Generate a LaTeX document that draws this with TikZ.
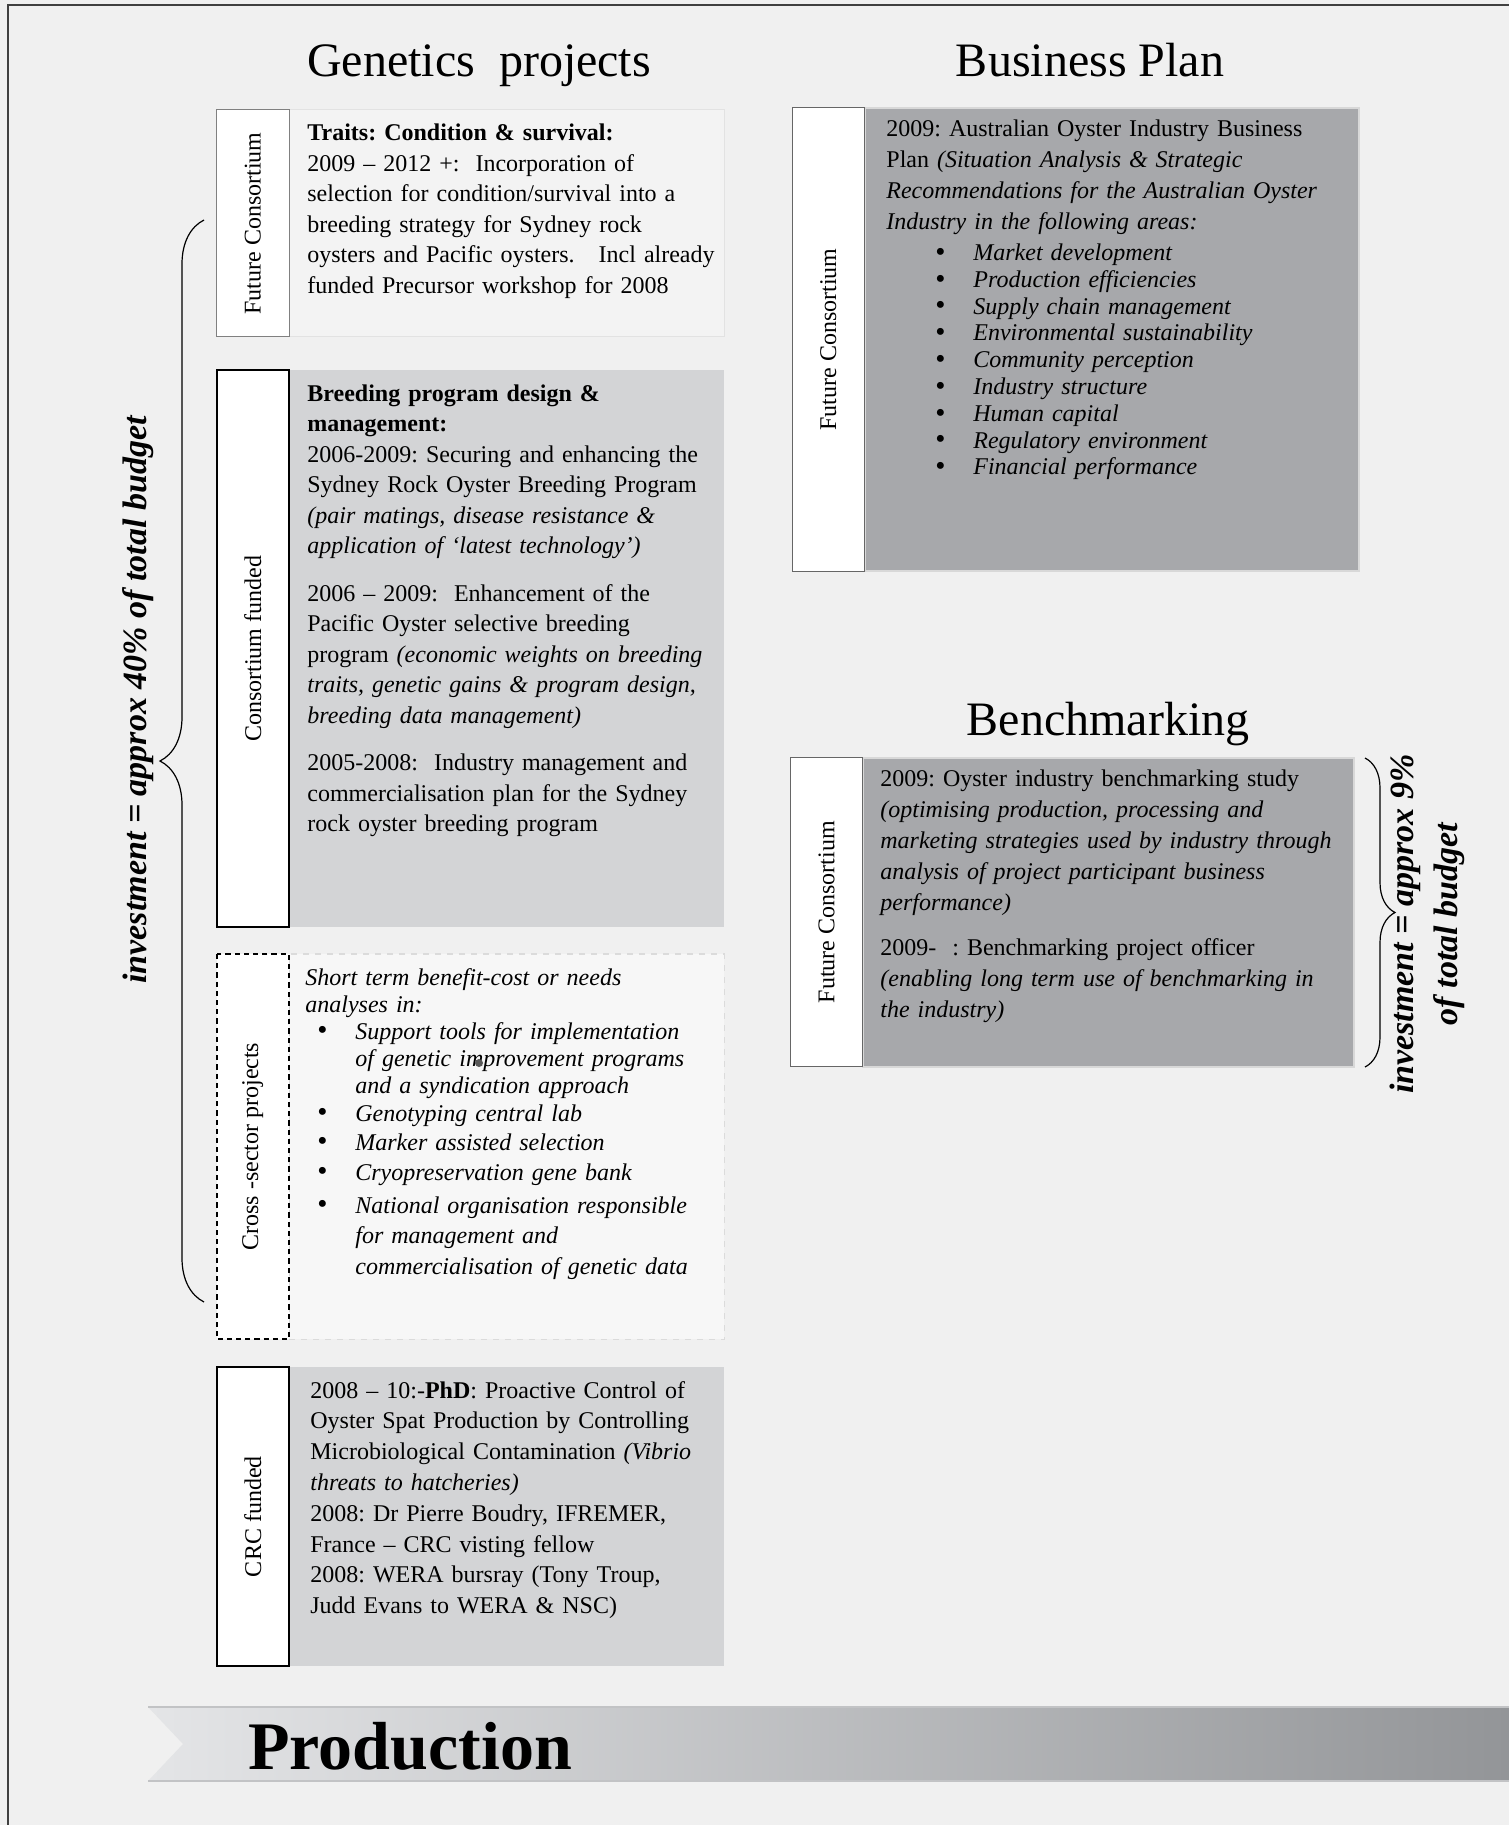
\documentclass[tikz,border=0pt]{standalone}
\usepackage{fontspec}
\setmainfont{Liberation Serif}
\usetikzlibrary{decorations.pathreplacing}
\definecolor{pagebg}{HTML}{F0F0F0}
\definecolor{frameline}{HTML}{404040}
\definecolor{palebox}{HTML}{F3F3F3}
\definecolor{paleedge}{HTML}{E2E2E2}
\definecolor{midbox}{HTML}{D3D4D6}
\definecolor{darkbox}{HTML}{A7A8AB}
\definecolor{darkedge}{HTML}{D8D8D8}
\definecolor{dashbox}{HTML}{F7F7F7}
\definecolor{ribleft}{HTML}{E4E5E7}
\definecolor{ribright}{HTML}{939598}
\definecolor{ribedge}{HTML}{C2C3C5}
\newcommand{\blt}[2]{\hspace*{#1}\makebox[#2][l]{\raisebox{-0.4pt}{\fontsize{14.5}{14.5}\selectfont\upshape\textbullet}}}
\frenchspacing

\begin{document}
\begin{tikzpicture}[x=0.5pt, y=-0.5pt,
  lab/.style={fill=white, rotate=90, inner sep=0pt, font=\fontsize{12}{14}\selectfont},
  cbox/.style={fill=#1, inner sep=0pt},
  txt/.style={anchor=base west, inner sep=0pt, text width=250pt, align=left, font=\fontsize{12}{#1}\selectfont},
  itxt/.style={txt=#1, font=\fontsize{12}{#1}\selectfont\itshape},
  head/.style={anchor=base, inner sep=0pt, font=\fontsize{24}{28}\selectfont},
  budget/.style={rotate=90, inner sep=0pt, align=center, font=\fontsize{17}{22}\selectfont\bfseries\itshape},
  budbrace/.style={decorate, decoration={brace, amplitude=#1}, line width=0.6pt}
]
  \fill[pagebg] (0,0) rectangle (1509,1825);
  \useasboundingbox (0,0) rectangle (1509,1825);
  \draw[frameline, line width=1pt] (8,1825) -- (8,5) -- (1509,5);

  % headings
  \node[head] (genhead) at (479,77) {Genetics\ \ projects};
  \node[head] (bphead) at (1090,77) {Business Plan};
  \node[head] (bmhead) at (1108,735) {Benchmarking};

  % genetics projects
  \node[cbox=palebox, draw=paleedge, line width=0.5pt, minimum width=217.7pt, minimum height=113.35pt] (g1box) at (506.7,223.35) {};
  \node[lab, draw=black!50, line width=0.5pt, minimum width=113.35pt, minimum height=36.25pt] (g1lab) at (252.75,223.35) {Future Consortium};
  \node[txt=15.3pt] (g1txt) at (307,140.5) {\textbf{Traits: Condition \& survival:}\\
    2009 -- 2012 +:\ \ Incorporation of\\
    selection for condition/survival into a\\
    breeding strategy for Sydney rock\\
    oysters and Pacific oysters.\ \ \ Incl already\\
    funded Precursor workshop for 2008};

  \node[cbox=midbox, minimum width=217.7pt, minimum height=278.3pt] (g2box) at (506.7,648.7) {};
  \node[lab, draw=black, line width=1pt, minimum width=278.3pt, minimum height=36.25pt] (g2lab) at (252.75,648.7) {Consortium funded};
  \node[txt=15.25pt] (g2txt) at (307,401) {\textbf{Breeding program design \&}\\
    \textbf{management:}\\
    2006-2009: Securing and enhancing the\\
    Sydney Rock Oyster Breeding Program\\
    \textit{(pair matings, disease resistance \&}\\
    \textit{application of `latest technology')}\\[8.5pt]
    2006 -- 2009:\ \ Enhancement of the\\
    Pacific Oyster selective breeding\\
    program \textit{(economic weights on breeding}\\
    \textit{traits, genetic gains \& program design,}\\
    \textit{breeding data management)}\\[8.5pt]
    2005-2008:\ \ Industry management and\\
    commercialisation plan for the Sydney\\
    rock oyster breeding program};

  \node[cbox=dashbox, draw=black!14, dashed, line width=0.7pt, minimum width=217.7pt, minimum height=192.65pt] (g3box) at (506.7,1146.65) {};
  \node[lab, draw=black, line width=1pt, dash pattern=on 2.6pt off 2pt, minimum width=192.65pt, minimum height=36.25pt] (g3lab) at (252.75,1146.65) {Cross -sector projects};
  \node[itxt=13.5pt] (g3txt) at (305,985) {Short term benefit-cost or needs\\
    analyses in:\\
    \blt{6pt}{19pt}Support tools for implementation\\
    \hspace*{25pt}of genetic improvement programs\\
    \hspace*{25pt}and a syndication approach\\[0.5pt]
    \blt{6pt}{19pt}Genotyping central lab\\[1pt]
    \blt{6pt}{19pt}Marker assisted selection\\[1.5pt]
    \blt{6pt}{19pt}Cryopreservation gene bank\\[3pt]
    \blt{6pt}{19pt}National organisation responsible\\[1.5pt]
    \hspace*{25pt}for management and\\[2pt]
    \hspace*{25pt}commercialisation of genetic data};
  \fill[black!65] (479,1063) circle[radius=2pt];

  \node[cbox=midbox, minimum width=217.7pt, minimum height=149.35pt] (g4box) at (506.7,1516.65) {};
  \node[lab, draw=black, line width=1pt, minimum width=149.35pt, minimum height=36.25pt] (g4lab) at (252.75,1516.65) {CRC funded};
  \node[txt=15.4pt] (g4txt) at (310,1398) {2008 -- 10:-\textbf{PhD}: Proactive Control of\\
    Oyster Spat Production by Controlling\\
    Microbiological Contamination \textit{(Vibrio}\\
    \textit{threats to hatcheries)}\\
    2008: Dr Pierre Boudry, IFREMER,\\
    France -- CRC visting fellow\\
    2008: WERA bursray (Tony Troup,\\
    Judd Evans to WERA \& NSC)};

  % business plan
  \node[cbox=darkbox, draw=darkedge, line width=1pt, minimum width=247pt, minimum height=231.5pt] (bpbox) at (1111.6,339.5) {};
  \node[lab, draw=black!60, line width=0.5pt, minimum width=231.5pt, minimum height=36.3pt] (bplab) at (828.3,339.5) {Future Consortium};
  \node[txt=15.35pt] (bptxt) at (886,137) {2009: Australian Oyster Industry Business\\
    Plan \textit{(Situation Analysis \& Strategic}\\
    \textit{Recommendations for the Australian Oyster}\\
    \textit{Industry in the following areas:}};
  \node[itxt=13.4pt] (bplist) at (886,260.5) {\blt{24.5pt}{19pt}Market development\\
    \blt{24.5pt}{19pt}Production efficiencies\\
    \blt{24.5pt}{19pt}Supply chain management\\
    \blt{24.5pt}{19pt}Environmental sustainability\\
    \blt{24.5pt}{19pt}Community perception\\
    \blt{24.5pt}{19pt}Industry structure\\
    \blt{24.5pt}{19pt}Human capital\\
    \blt{24.5pt}{19pt}Regulatory environment\\
    \blt{24.5pt}{19pt}Financial performance};

  % benchmarking
  \node[cbox=darkbox, draw=darkedge, line width=1pt, minimum width=245.65pt, minimum height=154.5pt] (bmbox) at (1108.35,912.2) {};
  \node[lab, draw=black!60, line width=0.5pt, minimum width=154.5pt, minimum height=36.1pt] (bmlab) at (826.6,912.2) {Future Consortium};
  \node[txt=15.45pt] (bmtxt) at (880,786.5) {2009: Oyster industry benchmarking study\\
    \textit{(optimising production, processing and}\\
    \textit{marketing strategies used by industry through}\\
    \textit{analysis of project participant business}\\
    \textit{performance)}\\[7.4pt]
    2009-\ \ : Benchmarking project officer\\
    \textit{(enabling long term use of benchmarking in}\\
    \textit{the industry)}};

  % budget braces
  \coordinate (lbtop) at (204,220);
  \coordinate (lbbot) at (204,1302);
  \draw[budbrace=22pt] (lbbot) -- (lbtop);
  \node[budget] (lbudget) at (138,700) {investment = approx 40\% of total budget};
  \coordinate (rbtop) at (1365,758);
  \coordinate (rbbot) at (1365,1067);
  \draw[budbrace=15pt] (rbtop) -- (rbbot);
  \node[budget] (rbudget) at (1427,924) {investment = approx 9\%\\of total budget};

  % production ribbon
  \shade[left color=ribleft, right color=ribright] (148,1707) -- (1509,1707) -- (1509,1781) -- (148,1781) -- (183,1744) -- cycle;
  \draw[ribedge, line width=0.6pt] (148,1707) -- (1509,1707) (148,1781) -- (1509,1781);
  \node[anchor=base west, inner sep=0pt, font=\fontsize{34}{40}\selectfont\bfseries] (prod) at (248,1769) {Production};
\end{tikzpicture}
\end{document}
